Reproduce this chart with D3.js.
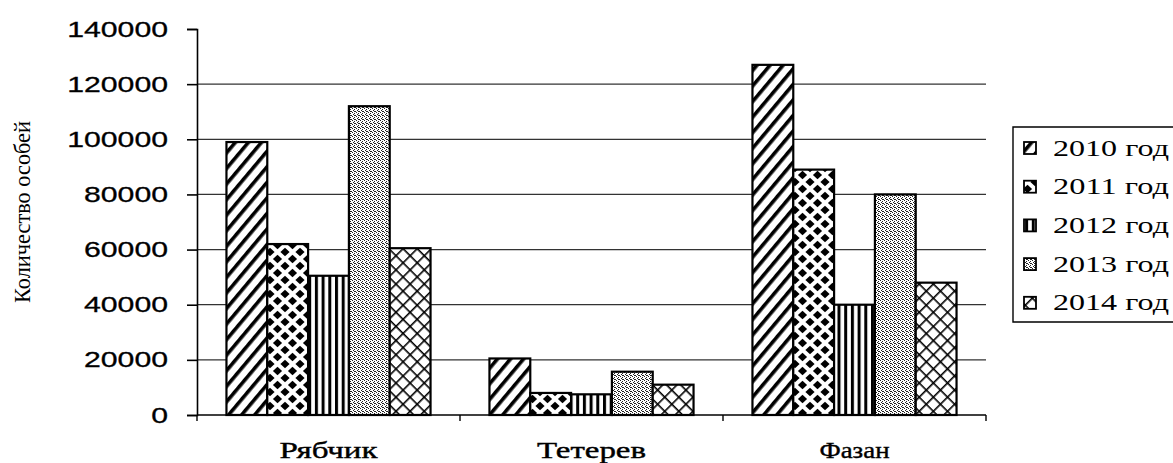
<!DOCTYPE html>
<html><head><meta charset="utf-8">
<script src="https://cdn.jsdelivr.net/npm/d3@7"></script>
<style>body{margin:0;background:#fff;} svg{display:block;}</style>
</head><body>
<script>
const categories = ["Рябчик", "Тетерев", "Фазан"];
const years = ["2010 год", "2011 год", "2012 год", "2013 год", "2014 год"];
const v2010 = [99000, 20500, 127000];
const v2011 = [62000, 8000, 89000];
const v2012 = [50500, 7500, 40000];
const v2013 = [112000, 15700, 80000];
const v2014 = [60500, 11000, 48000];
const yTicks = [0, 20000, 40000, 60000, 80000, 100000, 120000, 140000];
const yLabel = "Количество особей";

const series = [v2010, v2011, v2012, v2013, v2014];
const W = 1173, H = 463;
const svg = d3.select("body").append("svg").attr("width", W).attr("height", H);
const defs = svg.append("defs");
const SERIF = "'Liberation Serif', 'Times New Roman', serif";
const SANS = "'Liberation Sans', Arial, sans-serif";

function stretchText(parent, str, x, y, target, opts) {
  const g = parent.append("g").attr("transform", `translate(${x},${y})`);
  const t = g.append("text").attr("x",0).attr("y",0)
    .attr("font-family", opts.family).attr("font-size", opts.size)
    .attr("font-weight", opts.weight || "normal")
    .attr("text-anchor", opts.anchor || "start").attr("fill","#000")
    .text(str);
  if (opts.stroke) t.attr("stroke","#000").attr("stroke-width",opts.stroke);
  const w = t.node().getComputedTextLength();
  const s = target / w;
  g.attr("transform", `translate(${x},${y})${opts.rotate ? " rotate("+opts.rotate+")" : ""} scale(${s},1)`);
  return g;
}

// patterns
const p0 = defs.append("pattern").attr("id","p0").attr("patternUnits","userSpaceOnUse")
  .attr("width",10).attr("height",10).attr("patternTransform","rotate(40)");
p0.append("rect").attr("width",10).attr("height",10).attr("fill","#fff");
p0.append("rect").attr("x",0).attr("width",3.6).attr("height",10).attr("fill","#000");

const p1 = defs.append("pattern").attr("id","p1").attr("patternUnits","userSpaceOnUse")
  .attr("width",15).attr("height",14);
p1.append("rect").attr("width",15).attr("height",14).attr("fill","#fff");
[[0,0],[15,0],[0,14],[15,14],[7.5,7]].forEach(([cx,cy])=>{
  p1.append("path").attr("d",`M${cx},${cy-4.3}L${cx+4.6},${cy}L${cx},${cy+4.3}L${cx-4.6},${cy}Z`).attr("fill","#000");
});

const p2 = defs.append("pattern").attr("id","p2").attr("patternUnits","userSpaceOnUse")
  .attr("width",6.7).attr("height",10);
p2.append("rect").attr("width",6.7).attr("height",10).attr("fill","#fff");
p2.append("rect").attr("x",0).attr("width",3).attr("height",10).attr("fill","#000");

const p3 = defs.append("pattern").attr("id","p3").attr("patternUnits","userSpaceOnUse")
  .attr("width",4).attr("height",4);
p3.append("rect").attr("width",4).attr("height",4).attr("fill","#fff");
[[0,0],[2,1],[1,2],[3,3],[2,3]].forEach(([x,y])=>p3.append("rect").attr("x",x).attr("y",y).attr("width",1).attr("height",1).attr("fill","#222"));

const p4 = defs.append("pattern").attr("id","p4").attr("patternUnits","userSpaceOnUse")
  .attr("width",10).attr("height",10).attr("patternTransform","rotate(45)");
p4.append("rect").attr("width",10).attr("height",10).attr("fill","#fff");
p4.append("rect").attr("x",0).attr("width",1.6).attr("height",10).attr("fill","#000");
p4.append("rect").attr("y",0).attr("width",10).attr("height",1.6).attr("fill","#000");

const fills = ["url(#p0)","url(#p1)","url(#p2)","url(#p3)","url(#p4)"];

// scales
const x0 = d3.scaleBand().domain(categories).range([197, 986]).padding(0);
const bw = x0.bandwidth();
const x1 = d3.scaleBand().domain(years).range([bw*0.112, bw*0.888]).padding(0);
const y = d3.scaleLinear().domain([0, 140000]).range([415, 29]);

// gridlines
svg.append("g").selectAll("line").data(yTicks.filter(t=>t>0 && t<140000)).join("line")
  .attr("x1",197).attr("x2",986).attr("y1",d=>y(d)).attr("y2",d=>y(d))
  .attr("stroke","#333").attr("stroke-width",1.2);

// bars
const g = svg.append("g");
categories.forEach((c,ci)=>{
  years.forEach((yr,si)=>{
    const v = series[si][ci];
    g.append("rect")
      .attr("x", x0(c)+x1(yr))
      .attr("y", y(v))
      .attr("width", x1.bandwidth())
      .attr("height", y(0)-y(v))
      .attr("fill", fills[si])
      .attr("stroke","#000").attr("stroke-width",2.2);
  });
});

// y axis
const yAxis = d3.axisLeft(y).tickValues(yTicks).tickSize(10).tickFormat("");
const ya = svg.append("g").attr("transform","translate(197,0)").call(yAxis);
ya.select(".domain").attr("stroke","#000").attr("stroke-width",1.6);
ya.selectAll(".tick line").attr("stroke","#000").attr("stroke-width",1.6);
const yl = svg.append("g");
yTicks.forEach(t=>{
  const s = d3.format("d")(t);
  stretchText(yl, s, 168, y(t)+7.5, s.length*16.8, {family:SANS, size:21.5, anchor:"end", stroke:0.3});
});

// x axis
const xa = svg.append("g").attr("transform","translate(0,415)");
xa.append("line").attr("x1",197).attr("x2",986).attr("y1",0).attr("y2",0).attr("stroke","#000").attr("stroke-width",1.6);
const bounds = categories.map(c=>x0(c)).concat([x0(categories[2])+bw]);
xa.selectAll(".tk").data(bounds).join("line").attr("class","tk")
  .attr("x1",d=>d).attr("x2",d=>d).attr("y1",0).attr("y2",6).attr("stroke","#000").attr("stroke-width",1.4);
const catW = {"Рябчик":98, "Тетерев":109, "Фазан":70};
categories.forEach(c=>{
  stretchText(xa, c, x0(c)+bw/2, 43, catW[c], {family:SERIF, size:23, anchor:"middle", stroke:0.4});
});

// y label
stretchText(svg, yLabel, 30, 212, 182, {family:SERIF, size:23, anchor:"middle", rotate:-90});

// legend
const lg = svg.append("g");
lg.append("path").attr("d","M1173,127H1013V322H1173").attr("fill","none").attr("stroke","#000").attr("stroke-width",1.4);
years.forEach((yr,i)=>{
  const cy = 148 + i*38.7;
  lg.append("rect").attr("x",1024).attr("y",cy-6).attr("width",12).attr("height",12)
    .attr("fill",fills[i]).attr("stroke","#000").attr("stroke-width",1.8);
  stretchText(lg, yr, 1053, cy+7.5, 116, {family:SERIF, size:23});
});
</script>
</body></html>
